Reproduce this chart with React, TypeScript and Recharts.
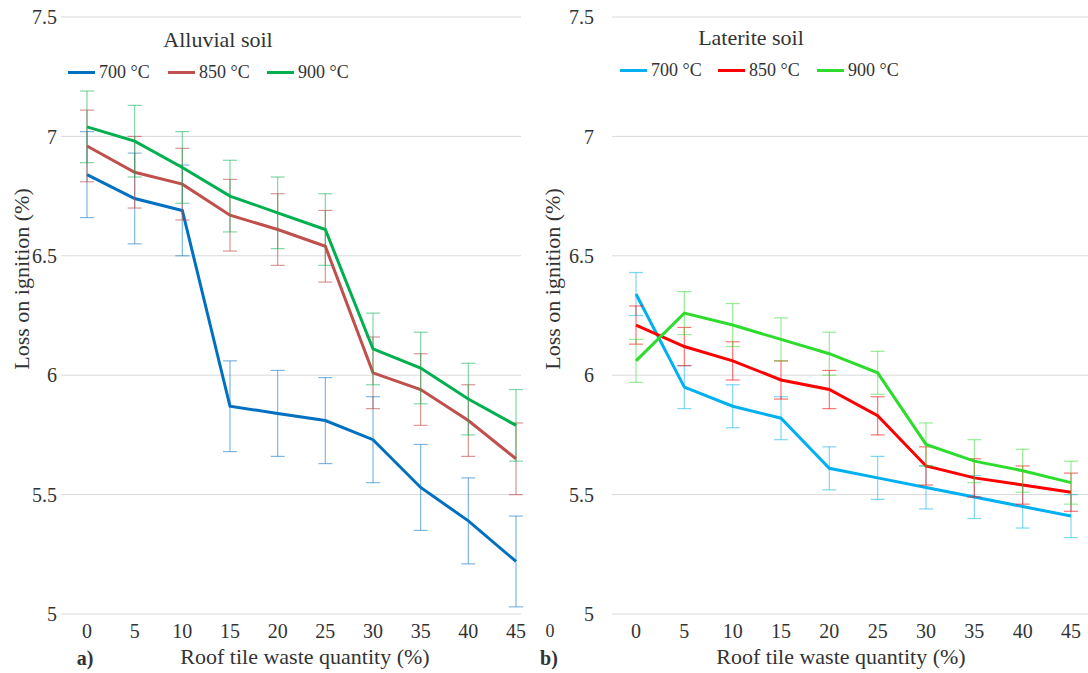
import React from 'react';
import { LineChart, Line, XAxis, YAxis, CartesianGrid, ErrorBar } from 'recharts';

const FONT = '"Liberation Serif", "Times New Roman", Times, serif';
const TEXT = '#333333';

// roof tile waste content (%)
const categories = [0, 5, 10, 15, 20, 25, 30, 35, 40, 45];
const yTicks = [5, 5.5, 6, 6.5, 7, 7.5];
const seriesNames = ['700 °C', '850 °C', '900 °C'];

// alluvial soil, loss on ignition (%)
const alluvial700 = [6.84, 6.74, 6.69, 5.87, 5.84, 5.81, 5.73, 5.53, 5.39, 5.22];
const alluvial850 = [6.96, 6.85, 6.80, 6.67, 6.61, 6.54, 6.01, 5.94, 5.81, 5.65];
const alluvial900 = [7.04, 6.98, 6.87, 6.75, 6.68, 6.61, 6.11, 6.03, 5.90, 5.79];
const alluvialErr700 = [0.18, 0.19, 0.19, 0.19, 0.18, 0.18, 0.18, 0.18, 0.18, 0.19];
const alluvialErr850 = [0.15, 0.15, 0.15, 0.15, 0.15, 0.15, 0.15, 0.15, 0.15, 0.15];
const alluvialErr900 = [0.15, 0.15, 0.15, 0.15, 0.15, 0.15, 0.15, 0.15, 0.15, 0.15];

// laterite soil, loss on ignition (%)
const laterite700 = [6.34, 5.95, 5.87, 5.82, 5.61, 5.57, 5.53, 5.49, 5.45, 5.41];
const laterite850 = [6.21, 6.12, 6.06, 5.98, 5.94, 5.83, 5.62, 5.57, 5.54, 5.51];
const laterite900 = [6.06, 6.26, 6.21, 6.15, 6.09, 6.01, 5.71, 5.64, 5.60, 5.55];
const lateriteErr700 = [0.09, 0.09, 0.09, 0.09, 0.09, 0.09, 0.09, 0.09, 0.09, 0.09];
const lateriteErr850 = [0.08, 0.08, 0.08, 0.08, 0.08, 0.08, 0.08, 0.08, 0.08, 0.08];
const lateriteErr900 = [0.09, 0.09, 0.09, 0.09, 0.09, 0.09, 0.09, 0.09, 0.09, 0.09];

const alluvialColors = ['#0070C0', '#C0504D', '#00B050'];
const alluvialErrColors = ['rgba(0,112,192,0.5)', 'rgba(192,80,77,0.6)', 'rgba(0,176,80,0.5)'];
const lateriteColors = ['#00B0F0', '#FF0000', '#2EDC2E'];
const lateriteErrColors = ['rgba(0,176,240,0.5)', 'rgba(255,0,0,0.55)', 'rgba(46,220,46,0.5)'];

const buildRows = (vals: number[][], errs: number[][]) =>
  categories.map((c, i) => ({
    x: String(c),
    s0: vals[0][i], e0: errs[0][i],
    s1: vals[1][i], e1: errs[1][i],
    s2: vals[2][i], e2: errs[2][i],
  }));

const alluvialRows = buildRows(
  [alluvial700, alluvial850, alluvial900],
  [alluvialErr700, alluvialErr850, alluvialErr900]
);
const lateriteRows = buildRows(
  [laterite700, laterite850, laterite900],
  [lateriteErr700, lateriteErr850, lateriteErr900]
);

const Txt: React.FC<{ x: number; y: number; size: number; bold?: boolean; rotate?: boolean; children: React.ReactNode }> = ({
  x, y, size, bold, rotate, children,
}) => (
  <div
    style={{
      position: 'absolute', left: x, top: y, fontSize: size, lineHeight: 1, whiteSpace: 'nowrap',
      fontWeight: bold ? 700 : 400, color: TEXT, fontFamily: FONT,
      transform: `translate(-50%, -50%)${rotate ? ' rotate(-90deg)' : ''}`,
    }}
  >
    {children}
  </div>
);

const LegendRow: React.FC<{ x: number[]; y: number; colors: string[] }> = ({ x, y, colors }) => (
  <>
    {seriesNames.map((n, i) => (
      <div key={n} style={{ position: 'absolute', left: x[i], top: y - 10, height: 20, display: 'flex', alignItems: 'center', fontFamily: FONT, fontSize: 18, color: TEXT }}>
        <span style={{ display: 'inline-block', width: 27, height: 3, background: colors[i], marginRight: 4 }} />
        <span style={{ lineHeight: 1 }}>{n}</span>
      </div>
    ))}
  </>
);

interface PanelProps {
  rows: any[];
  colors: string[];
  errColors: string[];
  width: number;
  rightGap: number;
  yAxisWidth: number;
  tickGap: number;
  pad: { left: number; right: number };
}

const tickStyle = { fontSize: 20, fill: TEXT, fontFamily: FONT };

const Panel: React.FC<PanelProps> = ({ rows, colors, errColors, width, rightGap, yAxisWidth, tickGap, pad }) => (
  <LineChart
    width={width}
    height={673}
    data={rows}
    margin={{ top: 17, right: rightGap, bottom: 0, left: 0 }}
    style={{ fontFamily: FONT }}
  >
    <CartesianGrid vertical={false} stroke="#d9d9d9" />
    <XAxis
      dataKey="x"
      height={59}
      interval={0}
      axisLine={false}
      tickLine={false}
      tickSize={0}
      tickMargin={10}
      padding={pad}
      tick={tickStyle}
    />
    <YAxis
      domain={[5, 7.5]}
      ticks={yTicks}
      width={yAxisWidth}
      axisLine={false}
      tickLine={false}
      tickSize={0}
      tickMargin={tickGap}
      tick={tickStyle}
    />
    {[0, 1, 2].map((i) => (
      <Line
        key={i}
        type="linear"
        dataKey={`s${i}`}
        name={seriesNames[i]}
        stroke={colors[i]}
        strokeWidth={3}
        dot={false}
        activeDot={false}
        isAnimationActive={false}
      >
        <ErrorBar dataKey={`e${i}`} width={7} strokeWidth={1.2} stroke={errColors[i]} direction="y" isAnimationActive={false} />
      </Line>
    ))}
  </LineChart>
);

export default function App() {
  return (
    <div style={{ position: 'absolute', left: 0, top: 0, width: 1088, height: 673, background: '#fff', overflow: 'hidden', fontFamily: FONT }}>
      <div style={{ position: 'absolute', left: 0, top: 0 }}>
        <Panel rows={alluvialRows} colors={alluvialColors} errColors={alluvialErrColors} width={540} rightGap={19} yAxisWidth={61} tickGap={4} pad={{ left: 26, right: 5 }} />
      </div>
      <div style={{ position: 'absolute', left: 540, top: 0 }}>
        <Panel rows={lateriteRows} colors={lateriteColors} errColors={lateriteErrColors} width={548} rightGap={0} yAxisWidth={72} tickGap={18} pad={{ left: 24, right: 17 }} />
      </div>

      <Txt x={218} y={40} size={22}>Alluvial soil</Txt>
      <LegendRow x={[68, 168, 267]} y={72} colors={alluvialColors} />
      <Txt x={22} y={279} size={22} rotate>Loss on ignition (%)</Txt>
      <Txt x={305} y={657} size={22}>Roof tile waste quantity (%)</Txt>
      <Txt x={85} y={658} size={20} bold>a)</Txt>
      <Txt x={550} y={631} size={18}>0</Txt>

      <Txt x={751} y={38} size={22}>Laterite soil</Txt>
      <LegendRow x={[620, 718, 817]} y={70} colors={lateriteColors} />
      <Txt x={553} y={279} size={22} rotate>Loss on ignition (%)</Txt>
      <Txt x={841} y={657} size={22}>Roof tile waste quantity (%)</Txt>
      <Txt x={549} y={658} size={20} bold>b)</Txt>
    </div>
  );
}
